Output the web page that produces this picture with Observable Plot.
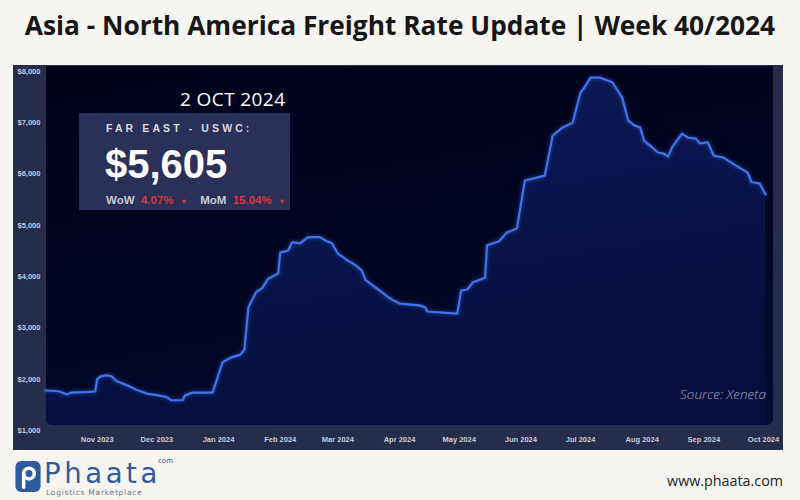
<!DOCTYPE html>
<html>
<head>
<meta charset="utf-8">
<script src="https://cdn.jsdelivr.net/npm/d3@7"></script>
<script src="https://cdn.jsdelivr.net/npm/@observablehq/plot@0.6"></script>
<style>
  html, body { margin: 0; padding: 0; background: #f6f5f1; width: 800px; height: 500px; overflow: hidden; }
  #page { position: relative; width: 800px; height: 500px; }
  #title { position: absolute; left: 0; top: 7px; width: 800px; text-align: center;
           font: 700 26.3px "Open Sans", sans-serif; color: #161616; white-space: nowrap; line-height: 36px; }
  #panel { position: absolute; left: 13px; top: 65px; width: 770px; height: 385px; background: #262d4c; }
  #inner { position: absolute; left: 33px; top: 1px; width: 727px; height: 359px;
           background: linear-gradient(170deg, #00001a 0%, #010522 55%, #030b33 100%);
           border-radius: 0 0 6px 6px; }
  #chart { position: absolute; left: 0; top: 0; }
  #box { position: absolute; left: 66px; top: 48px; width: 211px; height: 97px; background: rgba(58,66,110,0.72); }
  .ov { position: absolute; white-space: nowrap; }
  #date { left: 167px; top: 22px; font: 400 19px "Open Sans", sans-serif; color: #ffffff; line-height: 24px; letter-spacing: 0.4px; }
  #route { left: 93px; top: 57px; font: 700 10.5px "Liberation Sans", Arial, sans-serif; color: #d9dbe5; letter-spacing: 3.1px; }
  #price { left: 92px; top: 76px; font: 700 40px "Liberation Sans", Arial, sans-serif; color: #ffffff; line-height: 46px; }
  #chg { left: 93px; top: 129px; font: 700 11.5px "Liberation Sans", Arial, sans-serif; color: #c7cad8; }
  #chg .r { color: #d63a3d; }
  #chg .a { color: #d63a3d; font-size: 7.5px; }
  #source { right: 17px; top: 320px; font: italic 300 13.5px "Open Sans", sans-serif; color: #a4a9c0; }
  #logo { position: absolute; left: 15px; top: 461px; }
  #brand { position: absolute; left: 44px; top: 461px; font: 400 27.5px "DejaVu Sans", sans-serif; color: #2f5b9e; letter-spacing: 3.6px; line-height: 24px; }
  #brand .last { letter-spacing: 0; }
  #dotcom { position: absolute; left: 158px; top: 457px; font: 400 7px "DejaVu Sans", sans-serif; color: #2f5b9e; line-height: 8px; }
  #tag { position: absolute; left: 46px; top: 489px; font: 400 7.5px "DejaVu Sans", sans-serif; color: #6f7480; letter-spacing: 0.75px; line-height: 8px; }
  #url { position: absolute; right: 17px; top: 471px; font: 400 14.3px "Open Sans", sans-serif; color: #222; }
</style>
</head>
<body>
<div id="page">
  <div id="title">Asia - North America Freight Rate Update | Week 40/2024</div>
  <div id="panel">
    <div id="inner"></div>
    <div id="chart"></div>
    <div id="box"></div>
    <div class="ov" id="date">2 OCT 2024</div>
    <div class="ov" id="route">FAR EAST - USWC:</div>
    <div class="ov" id="price">$5,605</div>
    <div class="ov" id="chg">WoW&nbsp; <span class="r">4.07%</span>&nbsp; <span class="a">▼</span>&nbsp;&nbsp;&nbsp; MoM&nbsp; <span class="r">15.04%</span>&nbsp; <span class="a">▼</span></div>
    <div class="ov" id="source">Source: Xeneta</div>
  </div>
  <svg id="logo" width="26" height="31" viewBox="0 0 26 32">
    <rect x="0" y="0" width="26" height="32" rx="6" fill="#2f5b9e"/>
    <circle cx="14" cy="13" r="5.5" fill="none" stroke="#ffffff" stroke-width="3.6"/>
    <path d="M8.5 13 V27" stroke="#ffffff" stroke-width="3.6" stroke-linecap="round"/>
  </svg>
  <div id="brand">Phaat<span class="last">a</span></div>
  <div id="dotcom">com</div>
  <div id="tag">Logistics Marketplace</div>
  <div id="url">www.phaata.com</div>
</div>
<script>
// ---- data (Far East - USWC spot rate, USD/FEU) ----
const dates = [
  "2023-10-06","2023-10-11","2023-10-13","2023-10-17","2023-10-19","2023-10-26","2023-10-31",
  "2023-11-01","2023-11-03","2023-11-06","2023-11-08","2023-11-11","2023-11-16","2023-11-21","2023-11-26",
  "2023-12-01","2023-12-06","2023-12-08","2023-12-14","2023-12-15","2023-12-19","2023-12-29",
  "2024-01-03","2024-01-07","2024-01-12","2024-01-14","2024-01-16","2024-01-18","2024-01-20","2024-01-23","2024-01-26","2024-01-31",
  "2024-02-01","2024-02-05","2024-02-07","2024-02-11","2024-02-15","2024-02-21","2024-02-24","2024-02-27",
  "2024-03-01","2024-03-05","2024-03-10","2024-03-13","2024-03-15","2024-03-22","2024-03-27",
  "2024-04-01","2024-04-11","2024-04-14","2024-04-15","2024-04-30",
  "2024-05-02","2024-05-05","2024-05-08","2024-05-14","2024-05-15","2024-05-21","2024-05-25","2024-05-30",
  "2024-06-03","2024-06-13","2024-06-17","2024-06-22","2024-06-27",
  "2024-07-01","2024-07-03","2024-07-06","2024-07-11","2024-07-17","2024-07-22","2024-07-25","2024-07-28","2024-07-31",
  "2024-08-02","2024-08-06","2024-08-09","2024-08-12","2024-08-14","2024-08-16","2024-08-21","2024-08-24","2024-08-28","2024-08-30",
  "2024-09-03","2024-09-06","2024-09-11","2024-09-17","2024-09-23","2024-09-25","2024-09-29","2024-10-02"
];
const rates = [
  1780,1770,1760,1700,1740,1750,1760,
  2000,2060,2075,2060,1960,1880,1790,1720,
  1690,1650,1590,1590,1680,1740,1740,
  2330,2420,2480,2580,3400,3560,3700,3780,3960,4060,
  4470,4510,4670,4650,4770,4770,4700,4650,
  4450,4340,4220,4120,3930,3730,3580,
  3475,3440,3400,3320,3280,
  3730,3750,3890,3980,4610,4690,4860,4940,
  5875,5970,6750,6910,7000,
  7590,7690,7880,7880,7790,7490,7040,6950,6910,
  6650,6520,6420,6400,6340,6520,6790,6710,6690,6600,
  6620,6360,6320,6170,6030,5840,5820,5605
];
const yTicks = [1000, 2000, 3000, 4000, 5000, 6000, 7000, 8000];
const monthTicks = ["2023-11-01","2023-12-01","2024-01-01","2024-02-01","2024-03-01","2024-04-01",
                    "2024-05-01","2024-06-01","2024-07-01","2024-08-01","2024-09-01","2024-10-01"];
const xStart = "2023-10-06", xEnd = "2024-10-02";

const data = dates.map((d, i) => ({date: new Date(d), rate: rates[i]}));

const defs = () => {
  const ns = "http://www.w3.org/2000/svg";
  const g = document.createElementNS(ns, "defs");
  g.innerHTML = `
    <linearGradient id="areaGrad" x1="0" y1="0" x2="0.35" y2="1">
      <stop offset="0" stop-color="#0c1d5c"/>
      <stop offset="0.5" stop-color="#08154f"/>
      <stop offset="1" stop-color="#040f40"/>
    </linearGradient>
    <clipPath id="innerClip"><rect x="33" y="0" width="727" height="360" rx="6"/></clipPath>
    <filter id="glow" x="-5%" y="-5%" width="110%" height="110%"><feGaussianBlur stdDeviation="1.8"/></filter>`;
  return g;
};

const chart = Plot.plot({
  width: 770,
  height: 385,
  marginLeft: 32,
  marginRight: 18,
  marginTop: 6,
  marginBottom: 20,
  style: {background: "transparent", color: "#c9ccd9", fontFamily: "'Liberation Sans', Arial, sans-serif", overflow: "visible"},
  x: {type: "utc", domain: [new Date(xStart), new Date(xEnd)]},
  y: {domain: [yTicks[0], yTicks[yTicks.length - 1]]},
  marks: [
    defs,
    Plot.areaY(data, {x: "date", y1: yTicks[0], y2: "rate", fill: "url(#areaGrad)", fillOpacity: 0.95}),
    Plot.lineY(data, {x: "date", y: "rate", stroke: "#2f62e0", strokeWidth: 5, strokeOpacity: 0.3}),
    Plot.lineY(data, {x: "date", y: "rate", stroke: "#4273e8", strokeWidth: 2.2}),
    Plot.axisY(yTicks, {anchor: "left", tickSize: 0, tickPadding: 0, textAnchor: "start", dx: -28,
      fontSize: 7.5, fontWeight: 700, label: null, tickFormat: d => "$" + d3.format(",")(d)}),
    Plot.axisX(monthTicks.map(d => new Date(d)), {anchor: "bottom", tickSize: 0, tickPadding: 6,
      fontSize: 7.5, fontWeight: 700, label: null, tickFormat: d3.utcFormat("%b %Y")})
  ]
});
const area = chart.querySelector('g[aria-label="area"]');
if (area) area.setAttribute("clip-path", "url(#innerClip)");
const glowLine = chart.querySelectorAll('g[aria-label="line"]')[0];
if (glowLine) glowLine.setAttribute("filter", "url(#glow)");
document.getElementById("chart").appendChild(chart);
</script>
</body>
</html>
